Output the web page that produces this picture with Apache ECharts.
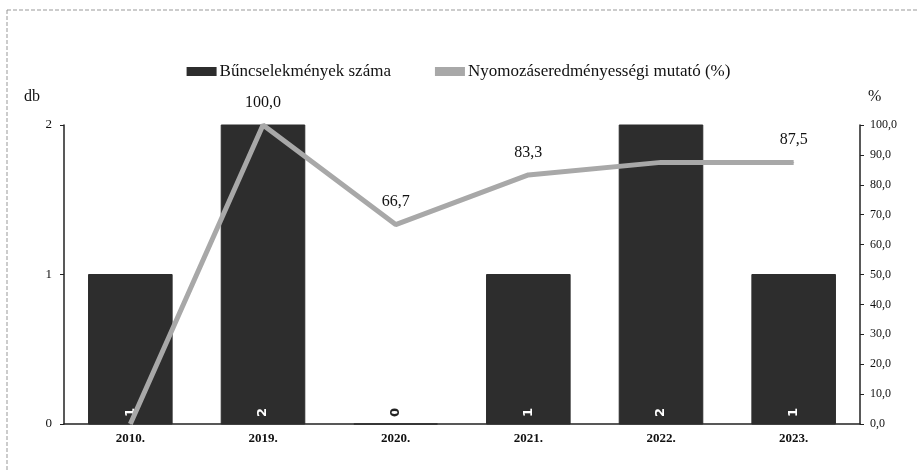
<!DOCTYPE html>
<html>
<head>
<meta charset="utf-8">
<script src="https://cdn.jsdelivr.net/npm/echarts@6/dist/echarts.min.js"></script>
<style>
  html, body { margin: 0; padding: 0; background: #fff; }
  #main { width: 917px; height: 472px; }
</style>
</head>
<body>
<div id="main"></div>
<script>
// adatok
const years = ['2010.', '2019.', '2020.', '2021.', '2022.', '2023.']
const crimes = [1, 2, 0, 1, 2, 1]
const rate = [0, 100, 66.7, 83.3, 87.5, 87.5]
const rateLabelShown = [false, true, true, true, false, true]
const leftTicks = ['0', '1', '2']

const fmt = v => v.toFixed(1).replace('.', ',')
const font = 'Liberation Serif'

const myChart = echarts.init(document.getElementById('main'))
const option = {
  animation: false,
  textStyle: { fontFamily: font },
  graphic: [
    {
      type: 'rect',
      shape: { x: 7, y: 10, width: 920, height: 480 },
      style: { fill: 'none', stroke: '#999', lineWidth: 1, lineDash: [4, 2] }
    }
  ],
  legend: {
    top: 58,
    left: 'center',
    itemGap: 44,
    itemWidth: 30,
    itemHeight: 9,
    textStyle: { fontFamily: font, fontSize: 17, color: '#111', padding: [0, 0, 0, -2] },
    data: [
      { name: 'Bűncselekmények száma', icon: 'rect' },
      { name: 'Nyomozáseredményességi mutató (%)', icon: 'rect', itemStyle: { color: '#a8a8a8' } }
    ]
  },
  grid: { left: 64, right: 57, top: 125, bottom: 48 },
  xAxis: {
    type: 'category',
    data: years,
    axisLine: { lineStyle: { color: '#222', width: 1.5 } },
    axisTick: { show: false },
    axisLabel: { fontFamily: font, fontWeight: 'bold', fontSize: 13, color: '#111', margin: 8 }
  },
  yAxis: [
    {
      type: 'value',
      min: 0,
      max: 2,
      interval: 1,
      name: 'db',
      nameLocation: 'end',
      nameGap: 20,
      nameTextStyle: { fontFamily: font, fontSize: 16, color: '#111', align: 'right', padding: [0, 24, 0, 0] },
      axisLine: { show: true, lineStyle: { color: '#222', width: 1.5 } },
      axisTick: { show: true, length: 4, lineStyle: { color: '#222' } },
      splitLine: { show: false },
      axisLabel: { fontFamily: font, fontSize: 13, color: '#111', margin: 12, formatter: v => leftTicks[v] }
    },
    {
      type: 'value',
      min: 0,
      max: 100,
      interval: 10,
      name: '%',
      nameLocation: 'end',
      nameGap: 20,
      nameTextStyle: { fontFamily: font, fontSize: 16, color: '#111', align: 'left', padding: [0, 0, 0, 8] },
      axisLine: { show: true, lineStyle: { color: '#222', width: 1.5 } },
      axisTick: { show: true, length: 4, lineStyle: { color: '#222' } },
      splitLine: { show: false },
      axisLabel: { fontFamily: font, fontSize: 12, color: '#111', margin: 10, formatter: v => fmt(v) }
    }
  ],
  series: [
    {
      name: 'Bűncselekmények száma',
      type: 'bar',
      yAxisIndex: 0,
      barWidth: '63%',
      itemStyle: { color: '#2d2d2d', borderColor: '#2d2d2d' },
      label: {
        show: true,
        position: 'insideBottom',
        rotate: 90,
        distance: 12,
        color: '#fff',
        fontFamily: 'DejaVu Sans',
        fontWeight: 'bold',
        fontSize: 13,
        align: 'center',
        verticalAlign: 'middle'
      },
      data: crimes.map(v => (v === 0 ? { value: v, label: { color: '#222' } } : v))
    },
    {
      name: 'Nyomozáseredményességi mutató (%)',
      type: 'line',
      yAxisIndex: 1,
      symbol: 'circle',
      symbolSize: 1,
      showSymbol: true,
      lineStyle: { color: '#a8a8a8', width: 5 },
      itemStyle: { color: '#a8a8a8' },
      label: {
        show: true,
        position: 'top',
        distance: 14,
        fontFamily: font,
        fontSize: 16,
        color: '#111',
        formatter: p => (rateLabelShown[p.dataIndex] ? fmt(p.value) : '')
      },
      data: rate
    }
  ]
}
myChart.setOption(option)
</script>
</body>
</html>
